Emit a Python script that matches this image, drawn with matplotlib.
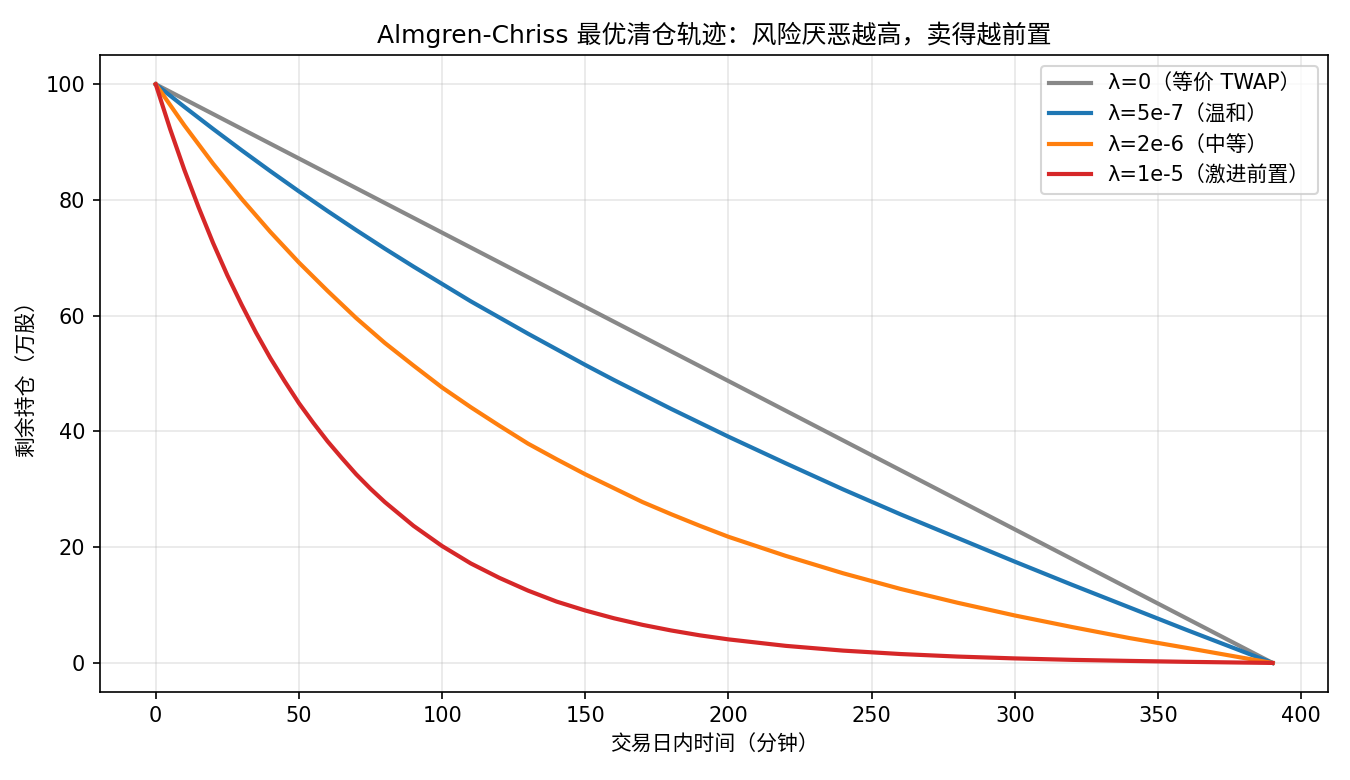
import matplotlib.pyplot as plt

plt.rcParams['font.family'] = ['DejaVu Sans', 'Noto Sans CJK SC']
plt.rcParams['axes.unicode_minus'] = False

# minutes into the trading day
t = [0, 10, 20, 30, 40, 50, 60, 70, 80, 90, 100, 110, 120, 130, 140, 150,
     160, 170, 180, 190, 200, 220, 240, 260, 280, 300, 320, 340, 360, 380, 390]
t_red = [0, 5, 10, 15, 20, 25, 30, 35, 40, 45, 50, 55, 60, 65, 70, 75, 80, 90,
         100, 110, 120, 130, 140, 150, 160, 170, 180, 190, 200, 220, 240, 260,
         280, 300, 320, 340, 360, 380, 390]

# remaining position (10k shares)
twap_t = [0, 390]
twap = [100, 0]
mild = [100, 96.1, 92.3, 88.6, 85.0, 81.5, 78.1, 74.8, 71.6, 68.5, 65.5, 62.5,
        59.7, 56.9, 54.2, 51.5, 48.9, 46.4, 43.9, 41.5, 39.1, 34.5, 30.0, 25.7,
        21.6, 17.5, 13.5, 9.6, 5.7, 1.9, 0]
medium = [100, 92.9, 86.3, 80.2, 74.5, 69.2, 64.3, 59.6, 55.3, 51.4, 47.6, 44.2,
          41.0, 37.9, 35.2, 32.6, 30.2, 27.8, 25.7, 23.7, 21.8, 18.5, 15.5, 12.8,
          10.4, 8.2, 6.2, 4.3, 2.6, 0.85, 0]
aggressive = [100, 92.3, 85.2, 78.7, 72.6, 67.0, 61.9, 57.1, 52.7, 48.7, 44.9,
              41.5, 38.3, 35.4, 32.6, 30.1, 27.8, 23.7, 20.2, 17.2, 14.7, 12.5,
              10.6, 9.06, 7.72, 6.58, 5.61, 4.77, 4.07, 2.95, 2.13, 1.54, 1.10,
              0.78, 0.53, 0.35, 0.19, 0.06, 0]

labels = ['λ=0（等价 TWAP）', 'λ=5e-7（温和）', 'λ=2e-6（中等）', 'λ=1e-5（激进前置）']

fig, ax = plt.subplots(figsize=(9, 5.2), dpi=150)
ax.plot(twap_t, twap, color='#888888', lw=2, label=labels[0])
ax.plot(t, mild, color='#1f77b4', lw=2, label=labels[1])
ax.plot(t, medium, color='#ff7f0e', lw=2, label=labels[2])
ax.plot(t_red, aggressive, color='#d62728', lw=2, label=labels[3])

ax.set_title('Almgren-Chriss 最优清仓轨迹：风险厌恶越高，卖得越前置', fontsize=12)
ax.set_xlabel('交易日内时间（分钟）')
ax.set_ylabel('剩余持仓（万股）')
ax.grid(True, alpha=0.3)
ax.legend(loc='upper right')

plt.subplots_adjust(left=0.074, right=0.984, top=0.929, bottom=0.113)
plt.savefig('out.png')
